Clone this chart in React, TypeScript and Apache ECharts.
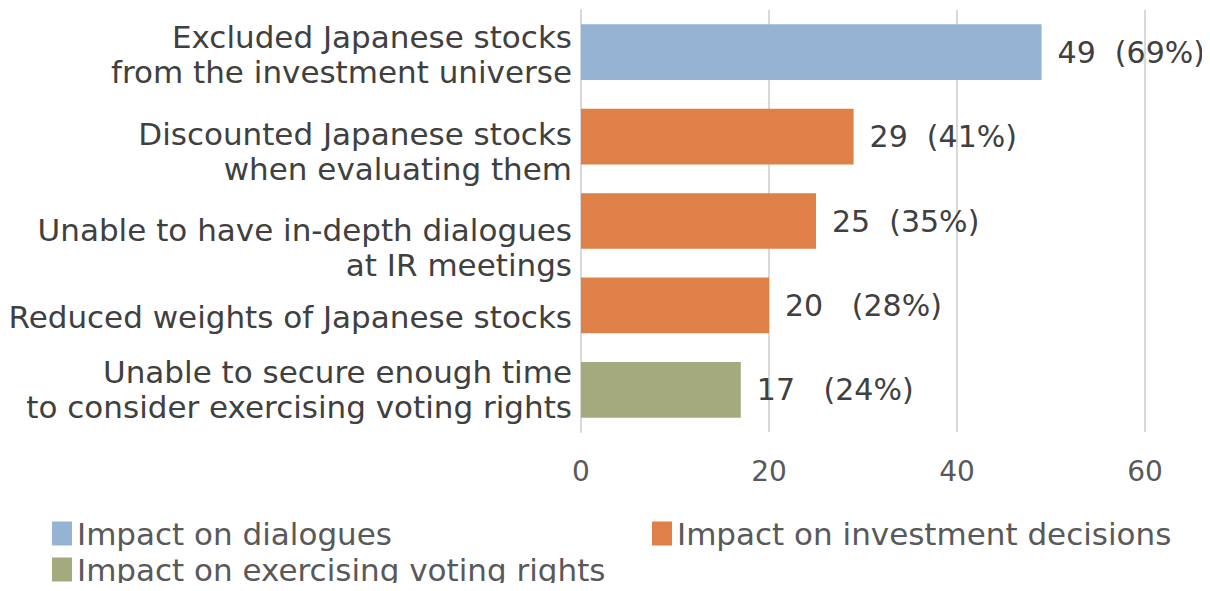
import React, { useEffect, useRef } from "react";
import * as echarts from "echarts";

const categories = [
  "Excluded Japanese stocks\nfrom the investment universe",
  "Discounted Japanese stocks\nwhen evaluating them",
  "Unable to have in-depth dialogues\nat IR meetings",
  "Reduced weights of Japanese stocks",
  "Unable to secure enough time\nto consider exercising voting rights",
];
const counts = [49, 29, 25, 20, 17];
const valueLabels = ["49  (69%)", "29  (41%)", "25  (35%)", "20   (28%)", "17   (24%)"];
const groupOf = [0, 1, 1, 1, 2];
const seriesNames = [
  "Impact on dialogues",
  "Impact on investment decisions",
  "Impact on exercising voting rights",
];
const colors = ["#95B4D3", "#DF8048", "#A4AA7E"];
const xTicks = { min: 0, max: 60, interval: 20 };
// vertical drift of category labels seen in the reference (px)
const labelDrift = [2, 15, 26, 12, 0];

const FONT = "DejaVu Sans";

export default function App() {
  const ref = useRef<HTMLDivElement>(null);
  useEffect(() => {
    if (!ref.current) return;
    const chart = echarts.init(ref.current, null, { renderer: "svg" });
    const series = seriesNames.map((name, g) => ({
      name,
      type: "bar",
      stack: "all",
      barCategoryGap: "34%",
      itemStyle: { color: colors[g] },
      label: {
        show: true,
        position: "right",
        distance: 16,
        color: "#404040",
        fontFamily: FONT,
        fontSize: 30,
        formatter: (p: any) => valueLabels[p.dataIndex],
      },
      data: counts.map((v, i) => (groupOf[i] === g ? v : "-")),
    }));
    const legendBase = {
      itemWidth: 20,
      itemHeight: 24,
      itemGap: 6,
      icon: "rect",
      textStyle: { color: "#595959", fontFamily: FONT, fontSize: 31 },
    };
    const rich: Record<string, any> = {
      t: { fontFamily: FONT, fontSize: 31, lineHeight: 35, color: "#404040", align: "right" },
    };
    labelDrift.forEach((d, i) => {
      rich["sp" + i] = { fontSize: 1, lineHeight: Math.max(1, d * 2), align: "right" };
    });
    chart.setOption({
      animation: false,
      grid: { left: 581, right: 65, top: 10, bottom: 159 },
      legend: [
        { ...legendBase, data: [seriesNames[0]], left: 47, top: 513 },
        { ...legendBase, data: [seriesNames[1]], left: 647, top: 513 },
        { ...legendBase, data: [seriesNames[2]], left: 47, top: 549 },
      ],
      xAxis: {
        type: "value",
        min: xTicks.min,
        max: xTicks.max,
        interval: xTicks.interval,
        axisLine: { show: false },
        axisTick: { show: false },
        splitLine: { lineStyle: { color: "#D9D9D9", width: 2 } },
        axisLabel: { color: "#595959", fontFamily: FONT, fontSize: 28, margin: 25 },
      },
      yAxis: {
        type: "category",
        inverse: true,
        data: categories,
        axisLine: { show: true, lineStyle: { color: "#D9D9D9", width: 2 } },
        axisTick: { show: false },
        axisLabel: {
          interval: 0,
          color: "#404040",
          fontFamily: FONT,
          fontSize: 31,
          lineHeight: 35,
          margin: 9,
          align: "right",
          rich,
          formatter: (v: string, i: number) => {
            const lines = v.split("\n").map((l) => `{t|${l}}`).join("\n");
            return labelDrift[i] > 0 ? `{sp${i}| }\n${lines}` : lines;
          },
        },
      },
      series,
    });
    return () => chart.dispose();
  }, []);
  return <div ref={ref} style={{ width: 1210, height: 591, margin: -8 }} />;
}
